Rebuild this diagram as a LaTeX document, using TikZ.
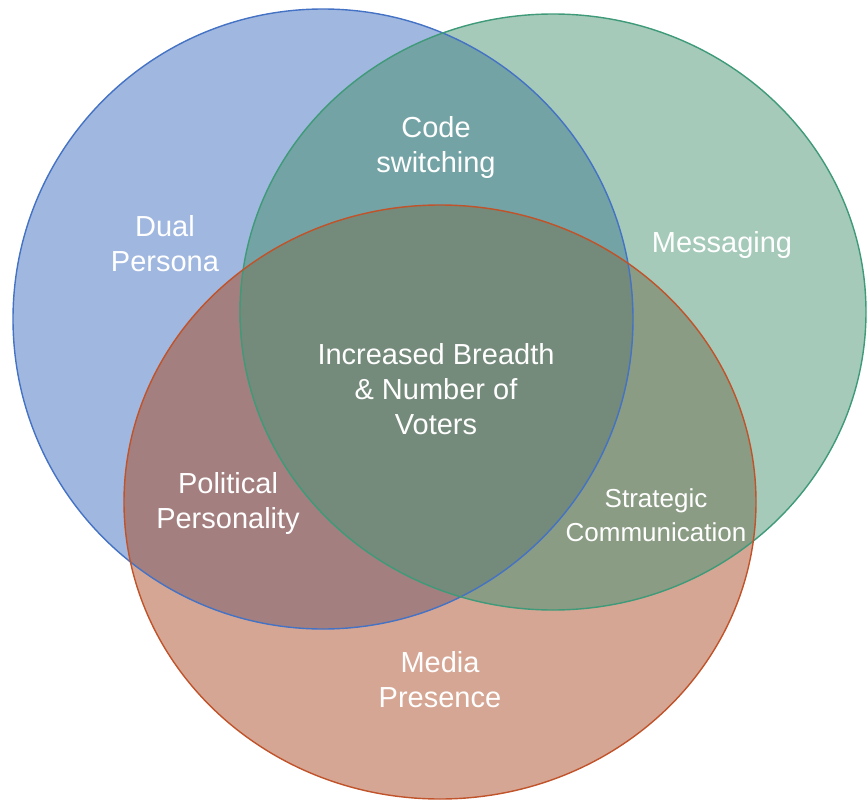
\documentclass[tikz,border=0pt]{standalone}
\usepackage{fontspec}
\setmainfont{Liberation Sans}
\definecolor{bfill}{HTML}{A0B7E0}
\definecolor{gfill}{HTML}{A5CABA}
\definecolor{rfill}{HTML}{D6A694}
\definecolor{bgfill}{HTML}{74A3A6}
\definecolor{brfill}{HTML}{A47F80}
\definecolor{grfill}{HTML}{8B9C84}
\definecolor{allfill}{HTML}{748A7A}
\definecolor{bline}{HTML}{4472C4}
\definecolor{gline}{HTML}{3E9A78}
\definecolor{rline}{HTML}{C0532A}
\def\blueE{(323,319) ellipse [x radius=310pt, y radius=310pt]}
\def\greenE{(553,312) ellipse [x radius=313pt, y radius=298pt]}
\def\redE{(440,502) ellipse [x radius=316pt, y radius=297pt]}
\begin{document}
\begin{tikzpicture}[x=1pt,y=-1pt,
  lbl/.style={text=white, align=center, inner sep=0pt, font=\fontsize{29}{35}\selectfont},
  lblsmall/.style={lbl, font=\fontsize{26}{34}\selectfont},
  rim/.style={line width=1.4pt}]
\useasboundingbox (0,0) rectangle (868,800);
\fill[bfill] \blueE;
\fill[gfill] \greenE;
\fill[rfill] \redE;
\begin{scope}\clip \blueE; \fill[bgfill] \greenE; \end{scope}
\begin{scope}\clip \blueE; \fill[brfill] \redE; \end{scope}
\begin{scope}\clip \greenE; \fill[grfill] \redE; \end{scope}
\begin{scope}\clip \blueE; \clip \greenE; \fill[allfill] \redE; \end{scope}
\draw[rim, bline] \blueE;
\draw[rim, gline] \greenE;
\draw[rim, rline] \redE;
\node[lbl] (code) at (436,148) {Code\\switching};
\node[lbl] (dual) at (165,244) {Dual\\Persona};
\node[lbl] (msg) at (722,245) {Messaging};
\node[lbl] (center) at (436,389) {Increased Breadth\\\& Number of\\Voters};
\node[lbl] (pol) at (228,503) {Political\\Personality};
\node[lblsmall] (strat) at (656,515) {Strategic\\Communication};
\node[lbl] (media) at (440,680) {Media\\Presence};
\end{tikzpicture}
\end{document}
